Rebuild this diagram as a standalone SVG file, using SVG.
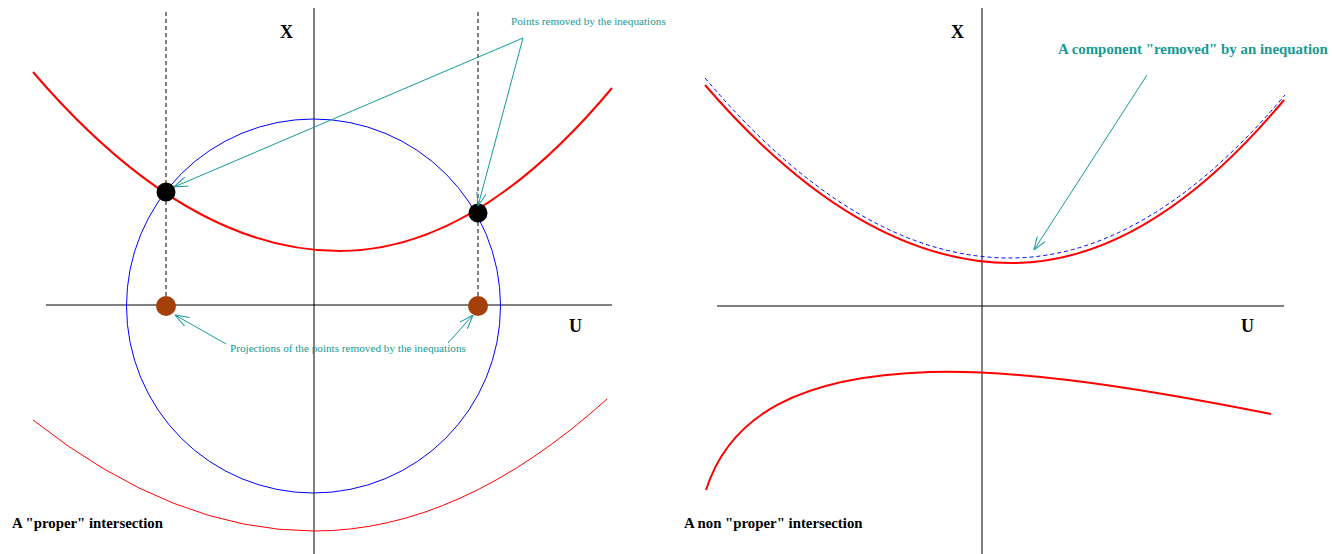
<svg xmlns="http://www.w3.org/2000/svg" width="1332" height="554" viewBox="0 0 1332 554">
<style>
.axis{stroke:#000;stroke-width:1;fill:none}
.dash{stroke:#000;stroke-width:1;stroke-dasharray:4,3;fill:none}
.red{stroke:#f00;stroke-width:2;fill:none}
.redthin{stroke:#f00;stroke-width:1;fill:none}
.blue{stroke:#00f;stroke-width:1;fill:none}
.bluedash{stroke:#00f;stroke-width:1;stroke-dasharray:4,3;fill:none}
.arrow{stroke:#159a96;stroke-width:1;fill:none;marker-end:url(#ah)}
.lbl{font-family:"Liberation Serif",serif;font-weight:bold;fill:#000}
.note{font-family:"Liberation Serif",serif;fill:#159a96;font-size:11.2px}
.bnote{font-family:"Liberation Serif",serif;fill:#159a96;font-size:14.9px;font-weight:bold}
</style>
<defs>
<marker id="ah" markerUnits="userSpaceOnUse" viewBox="0 0 14 10" refX="14" refY="5" markerWidth="14" markerHeight="10" orient="auto">
<path d="M0,0 L14,5 L0,10" fill="none" stroke="#159a96" stroke-width="1"/>
</marker>
</defs>
<rect width="1332" height="554" fill="#fff"/>

<g id="left-panel">
<g id="left-axes">
<line class="axis" x1="314" y1="8" x2="314" y2="554"/>
<line class="axis" x1="46" y1="305" x2="612" y2="305"/>
<text class="lbl" x="280" y="38" font-size="18">X</text>
<text class="lbl" x="569" y="332" font-size="18">U</text>
</g>
<g id="left-dashes">
<line class="dash" x1="166" y1="12" x2="166" y2="306"/>
<line class="dash" x1="478" y1="12" x2="478" y2="306"/>
</g>
<g id="circle"><circle class="blue" cx="313.5" cy="306" r="187"/></g>
<g id="upper-red"><path class="red" d="M33,72 Q186.5,251 340,251 Q476,251 612,88"/></g>
<g id="lower-red"><path class="redthin" d="M33,420 Q173.5,531 314,531 Q460.5,531 607,399"/></g>
<g id="points">
<circle cx="166" cy="192" r="9.5" fill="#000"/>
<circle cx="478" cy="213" r="9.5" fill="#000"/>
<circle cx="166" cy="306" r="10" fill="#a5400a"/>
<circle cx="478" cy="306" r="10" fill="#a5400a"/>
</g>
<g id="left-labels">
<text class="note" x="511" y="25">Points removed by the inequations</text>
<text class="note" x="230" y="352">Projections of the points removed by the inequations</text>
<text class="lbl" x="12" y="528" font-size="14.8">A "proper" intersection</text>
</g>
</g>

<g id="right-panel">
<g id="right-axes">
<line class="axis" x1="982" y1="8" x2="982" y2="554"/>
<line class="axis" x1="717" y1="306" x2="1284" y2="306"/>
<text class="lbl" x="951" y="38" font-size="18">X</text>
<text class="lbl" x="1241" y="332" font-size="18">U</text>
</g>
<g id="removed-component"><path class="bluedash" d="M705,78 Q857.5,258 1010,258 Q1147.5,258 1285,95"/></g>
<g id="upper-branch"><path class="red" d="M705,85 Q858.5,263 1012,263 Q1148,263 1284,100"/></g>
<g id="lower-branch"><path class="red" d="M706,490 C730,415 800,376 930,372 C1010,370 1110,382 1271,414"/></g>
<g id="right-labels">
<text class="bnote" x="1058" y="54">A component "removed" by an inequation</text>
<text class="lbl" x="684" y="528" font-size="14.8">A non "proper" intersection</text>
</g>
</g>

<g id="connectors">
<line class="arrow" x1="523" y1="38" x2="174" y2="187"/>
<line class="arrow" x1="523" y1="38" x2="478" y2="206"/>
<line class="arrow" x1="226" y1="344" x2="175" y2="315"/>
<line class="arrow" x1="448" y1="343" x2="473" y2="315"/>
<line class="arrow" x1="1147" y1="75" x2="1034" y2="250"/>
</g>
</svg>
